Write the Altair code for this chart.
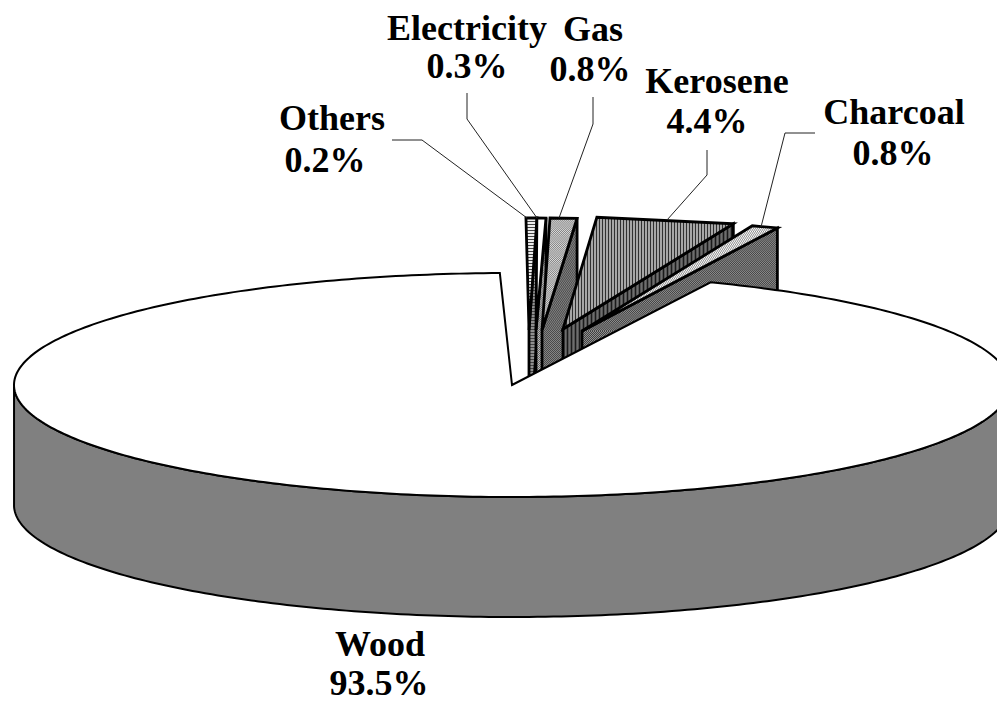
import math
import altair as alt

# ---- values
names = ["Others", "Electricity", "Gas", "Kerosene", "Charcoal", "Wood"]
shares = ["0.2%", "0.3%", "0.8%", "4.4%", "0.8%", "93.5%"]
# slice extents, degrees clockwise from the top of the pie
angle_start = [-0.35, 0.1, 0.92, 3.9, 20.0, 23.5]
angle_end = [0.92, 1.15, 4.04, 20.0, 23.1, 358.6]
# how far each slice is pulled out of the pie
pull_x = [17, 24, 30, 51, 70, 0]
pull_y = [-55, -55, -55, -56, -54, 0]

# ---- labels and leaders
label_x = [332, 467, 593, 717, 894, 380]
name_base = [130, 40, 41, 93, 124, 656]
share_x = [325, 467, 590, 707, 893, 379]
share_base = [172, 78, 81, 133, 165, 695]
leaders = [
    [(392, 140), (422, 140), (527, 218)],
    [(467, 93), (467, 119), (537, 218)],
    [(593, 97), (593, 124), (559, 218)],
    [(707, 150), (707, 175), (667, 220)],
    [(815, 133), (785, 133), (761, 227)],
]

# ---- pie geometry
W, H = 989, 696
CX, CY, A, B, DEPTH = 512, 385, 498, 112, 120
XS = alt.Scale(domain=[8, 8 + W], range=[0, W], nice=False, zero=False)
YS = alt.Scale(domain=[8 + H, 8], nice=False, zero=False)


def rim(deg, dx=0, dy=0, drop=0):
    t = math.radians(deg)
    return (CX + dx + A * math.sin(t), CY + dy - B * math.cos(t) + drop)


def poly_layer(pts, fill=None, stroke=None, sw=2.0):
    ring = [list(p) for p in pts] + [list(pts[0])]
    feat = {"type": "Feature", "properties": {},
            "geometry": {"type": "Polygon", "coordinates": [ring]}}
    kw = {}
    if fill:
        kw.update(fill=fill, filled=True, strokeWidth=0)
    else:
        kw.update(filled=False, stroke=stroke, strokeWidth=sw, strokeJoin="miter")
    return alt.Chart(alt.Data(values=[feat])).mark_geoshape(**kw).project(
        type="identity", scale=1, translate=[-8, -8])


def spans(pts, vertical, pos):
    """Where a convex polygon is crossed by the line x=pos or y=pos."""
    a, b = (0, 1) if vertical else (1, 0)
    hits = []
    for p, q in zip(pts, pts[1:] + pts[:1]):
        if p[a] == q[a]:
            continue
        f = (pos - p[a]) / (q[a] - p[a])
        if 0 <= f <= 1:
            hits.append(p[b] + f * (q[b] - p[b]))
    return (min(hits), max(hits)) if len(hits) >= 2 else None


def hatch_layers(pts, kind, ink, gap=3, width=1.0):
    if kind == "dots":
        out = []
        for off in (0, 1):
            rows = []
            y = math.floor(min(p[1] for p in pts)) + 0.5
            n = 0
            while y < max(p[1] for p in pts):
                s = spans(pts, False, y)
                if s and n % 2 == off:
                    rows.append({"x": s[0], "x2": s[1], "y": y})
                y += 1
                n += 1
            if rows:
                out.append(alt.Chart(alt.Data(values=rows)).mark_rule(
                    stroke=ink, strokeWidth=1, strokeDash=[1, 1],
                    strokeDashOffset=off).encode(
                    x=alt.X("x:Q", scale=XS, axis=None), x2="x2:Q",
                    y=alt.Y("y:Q", scale=YS, axis=None)))
        return out
    vertical = kind == "v"
    axis = 0 if vertical else 1
    lo, hi = min(p[axis] for p in pts), max(p[axis] for p in pts)
    rows = []
    pos = math.floor(lo) + 0.5
    while pos < hi:
        s = spans(pts, vertical, pos)
        if s:
            rows.append({"p": pos, "a": s[0], "b": s[1]})
        pos += gap
    if not rows:
        return []
    m = alt.Chart(alt.Data(values=rows)).mark_rule(stroke=ink, strokeWidth=width)
    if vertical:
        return [m.encode(x=alt.X("p:Q", scale=XS, axis=None),
                         y=alt.Y("a:Q", scale=YS, axis=None), y2="b:Q")]
    return [m.encode(y=alt.Y("p:Q", scale=YS, axis=None),
                     x=alt.X("a:Q", scale=XS, axis=None), x2="b:Q")]


def textured(pts, base, kind=None, ink=None, gap=3, width=1.0, sw=2.8):
    out = [poly_layer(pts, fill=base)]
    if kind:
        out += hatch_layers(pts, kind, ink, gap, width)
    out.append(poly_layer(pts, stroke="#000000", sw=sw))
    return out


# textures of top face and of side wall, slice by slice
face_tex = [
    dict(base="#ffffff", kind="h", ink="#444444", gap=3, width=1.2),
    dict(base="#ffffff"),
    dict(base="#dcdcdc", kind="dots", ink="#808080"),
    dict(base="#b4b4b4", kind="v", ink="#303030", gap=3, width=1.2),
    dict(base="#ffffff", kind="dots", ink="#8c8c8c"),
]
wall_tex = [
    dict(base="#9a9a9a", kind="h", ink="#444444", gap=3, width=1.2),
    dict(base="#bdbdbd", kind="dots", ink="#666666"),
    dict(base="#858585", kind="dots", ink="#4a4a4a"),
    dict(base="#6e6e6e", kind="v", ink="#1a1a1a", gap=4, width=1.6),
    dict(base="#909090", kind="dots", ink="#404040"),
]

layers = []
for i in range(5):
    dx, dy = pull_x[i], pull_y[i]
    apex = (CX + dx, CY + dy)
    p0 = rim(angle_start[i], dx, dy)
    p1 = rim(angle_end[i], dx, dy)
    # the radial side that faces the viewer
    wall = [apex, p1, (p1[0], p1[1] + DEPTH), (apex[0], apex[1] + DEPTH)]
    layers += textured(wall, **wall_tex[i])
    layers += textured([apex, p0, p1], **face_tex[i])

# the big slice: side wall first, then the top
s, e = angle_start[5], angle_end[5]
steps = 360
front = [s + (e - s) * k / steps for k in range(steps + 1)]
front = [d for d in front if 90 <= d <= 270]
wall_pts = [rim(d) for d in front] + [rim(d, drop=DEPTH) for d in reversed(front)]
layers.append(poly_layer(wall_pts, fill="#808080"))
layers.append(poly_layer(wall_pts, stroke="#000000", sw=2.0))
top_pts = [(CX, CY)] + [rim(s + (e - s) * k / steps) for k in range(steps + 1)]
layers.append(poly_layer(top_pts, fill="#ffffff"))
layers.append(poly_layer(top_pts, stroke="#000000", sw=2.0))

# leaders
rows = []
for i, path in enumerate(leaders):
    for k, (x, y) in enumerate(path):
        rows.append({"x": x, "y": y, "k": k, "s": names[i]})
layers.append(alt.Chart(alt.Data(values=rows)).mark_line(
    stroke="#222222", strokeWidth=1).encode(
    x=alt.X("x:Q", scale=XS, axis=None), y=alt.Y("y:Q", scale=YS, axis=None),
    detail="s:N", order="k:Q"))

# labels
text_rows = [{"x": label_x[i], "y": name_base[i], "t": names[i]} for i in range(6)] + \
            [{"x": share_x[i], "y": share_base[i], "t": shares[i]} for i in range(6)]
layers.append(alt.Chart(alt.Data(values=text_rows)).mark_text(
    font="Liberation Serif", fontWeight="bold", fontSize=36, color="#000000",
    align="center", baseline="alphabetic").encode(
    x=alt.X("x:Q", scale=XS, axis=None), y=alt.Y("y:Q", scale=YS, axis=None),
    text="t:N"))

chart = alt.layer(*layers).properties(
    width=W, height=H, padding=0, autosize=alt.AutoSizeParams(type="none"),
    background="#ffffff").configure_view(strokeWidth=0)

chart.save("out.html", embed_options={"renderer": "svg", "actions": False})
